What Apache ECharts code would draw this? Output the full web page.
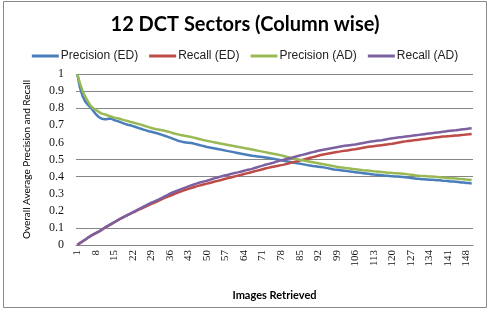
<!DOCTYPE html>
<html>
<head>
<meta charset="utf-8">
<script src="https://cdn.jsdelivr.net/npm/echarts@6/dist/echarts.min.js"></script>
<style>
  html, body { margin: 0; padding: 0; background: #fff; }
  #chart { width: 490px; height: 312px; }
</style>
</head>
<body>
<div id="chart"></div>
<script>
// images retrieved: 1..150
const imagesRetrieved = []
for (let n = 1; n <= 150; n++) imagesRetrieved.push(String(n))

const yTicks = [0, 0.1, 0.2, 0.3, 0.4, 0.5, 0.6, 0.7, 0.8, 0.9, 1]
// only these grid lines are visible in the reference
const visibleGridLines = [0.1, 0.4, 0.5, 0.8, 0.9, 1]

const precisionED = [
  1, 0.92, 0.87, 0.84, 0.82, 0.805, 0.785, 0.765, 0.75, 0.74,
  0.736, 0.735, 0.74, 0.738, 0.73, 0.726, 0.72, 0.714, 0.708, 0.703,
  0.7, 0.695, 0.69, 0.685, 0.68, 0.675, 0.67, 0.665, 0.662, 0.658,
  0.654, 0.649, 0.644, 0.639, 0.634, 0.628, 0.622, 0.616, 0.61, 0.606,
  0.602, 0.6, 0.598, 0.596, 0.593, 0.589, 0.585, 0.581, 0.577, 0.573,
  0.57, 0.567, 0.564, 0.561, 0.558, 0.555, 0.552, 0.549, 0.546, 0.543,
  0.54, 0.537, 0.534, 0.531, 0.528, 0.525, 0.522, 0.52, 0.518, 0.516,
  0.514, 0.512, 0.51, 0.507, 0.505, 0.502, 0.499, 0.496, 0.493, 0.49,
  0.487, 0.484, 0.481, 0.478, 0.476, 0.473, 0.47, 0.467, 0.465, 0.462,
  0.46, 0.458, 0.456, 0.454, 0.451, 0.448, 0.445, 0.442, 0.44, 0.438,
  0.436, 0.434, 0.432, 0.43, 0.428, 0.426, 0.424, 0.422, 0.42, 0.418,
  0.416, 0.414, 0.412, 0.411, 0.41, 0.408, 0.406, 0.405, 0.403, 0.402,
  0.401, 0.4, 0.399, 0.398, 0.396, 0.394, 0.392, 0.39, 0.388, 0.387,
  0.385, 0.384, 0.383, 0.382, 0.381, 0.38, 0.379, 0.378, 0.376, 0.375,
  0.374, 0.372, 0.371, 0.37, 0.368, 0.366, 0.365, 0.363, 0.362, 0.36
]

const recallED = [
  0, 0.011, 0.021, 0.031, 0.042, 0.052, 0.061, 0.069, 0.077, 0.086,
  0.097, 0.106, 0.115, 0.124, 0.133, 0.142, 0.151, 0.159, 0.167, 0.175,
  0.182, 0.19, 0.197, 0.205, 0.212, 0.219, 0.226, 0.233, 0.24, 0.247,
  0.254, 0.261, 0.268, 0.275, 0.282, 0.288, 0.294, 0.3, 0.306, 0.312,
  0.318, 0.323, 0.328, 0.333, 0.338, 0.343, 0.347, 0.351, 0.355, 0.359,
  0.363, 0.367, 0.371, 0.375, 0.379, 0.383, 0.387, 0.391, 0.395, 0.399,
  0.403, 0.407, 0.411, 0.415, 0.419, 0.423, 0.427, 0.431, 0.435, 0.439,
  0.443, 0.447, 0.451, 0.455, 0.458, 0.461, 0.464, 0.467, 0.47, 0.474,
  0.478, 0.482, 0.486, 0.49, 0.494, 0.498, 0.502, 0.506, 0.51, 0.514,
  0.518, 0.522, 0.526, 0.529, 0.532, 0.535, 0.538, 0.541, 0.544, 0.546,
  0.549, 0.551, 0.553, 0.556, 0.558, 0.56, 0.563, 0.566, 0.569, 0.572,
  0.574, 0.576, 0.578, 0.58, 0.582, 0.584, 0.586, 0.588, 0.59, 0.592,
  0.595, 0.598, 0.601, 0.604, 0.606, 0.608, 0.61, 0.612, 0.614, 0.616,
  0.618, 0.62, 0.622, 0.624, 0.626, 0.628, 0.63, 0.632, 0.634, 0.635,
  0.636, 0.637, 0.639, 0.64, 0.641, 0.643, 0.644, 0.646, 0.647, 0.649
]

const precisionAD = [
  1, 0.945, 0.9, 0.867, 0.84, 0.815, 0.8, 0.79, 0.78, 0.77,
  0.765, 0.76, 0.755, 0.75, 0.745, 0.742, 0.738, 0.733, 0.729, 0.725,
  0.72, 0.716, 0.712, 0.708, 0.704, 0.699, 0.694, 0.689, 0.684, 0.68,
  0.677, 0.674, 0.671, 0.668, 0.664, 0.66, 0.655, 0.651, 0.647, 0.643,
  0.64, 0.637, 0.634, 0.631, 0.628, 0.624, 0.62, 0.616, 0.612, 0.609,
  0.606, 0.603, 0.6, 0.597, 0.594, 0.591, 0.588, 0.585, 0.582, 0.579,
  0.576, 0.573, 0.57, 0.567, 0.564, 0.561, 0.558, 0.555, 0.552, 0.549,
  0.546, 0.543, 0.54, 0.537, 0.534, 0.531, 0.528, 0.524, 0.52, 0.516,
  0.512, 0.508, 0.505, 0.502, 0.499, 0.496, 0.493, 0.49, 0.487, 0.484,
  0.481, 0.478, 0.475, 0.472, 0.469, 0.466, 0.463, 0.46, 0.457, 0.455,
  0.453, 0.451, 0.449, 0.447, 0.445, 0.443, 0.441, 0.439, 0.437, 0.436,
  0.435, 0.433, 0.431, 0.43, 0.429, 0.427, 0.425, 0.423, 0.422, 0.421,
  0.42, 0.419, 0.418, 0.417, 0.415, 0.413, 0.411, 0.409, 0.407, 0.405,
  0.404, 0.403, 0.402, 0.401, 0.4, 0.399, 0.398, 0.396, 0.394, 0.393,
  0.392, 0.391, 0.39, 0.389, 0.387, 0.386, 0.385, 0.383, 0.382, 0.38
]

const recallAD = [
  0, 0.012, 0.022, 0.032, 0.043, 0.053, 0.062, 0.07, 0.078, 0.087,
  0.098, 0.107, 0.116, 0.125, 0.134, 0.143, 0.152, 0.16, 0.168, 0.176,
  0.184, 0.192, 0.2, 0.208, 0.216, 0.224, 0.232, 0.24, 0.247, 0.254,
  0.261, 0.268, 0.276, 0.284, 0.292, 0.3, 0.307, 0.313, 0.319, 0.325,
  0.331, 0.337, 0.343, 0.349, 0.354, 0.359, 0.364, 0.368, 0.372, 0.376,
  0.381, 0.386, 0.391, 0.395, 0.4, 0.404, 0.408, 0.411, 0.415, 0.419,
  0.422, 0.426, 0.43, 0.434, 0.438, 0.441, 0.445, 0.45, 0.455, 0.46,
  0.464, 0.469, 0.473, 0.477, 0.481, 0.486, 0.491, 0.495, 0.499, 0.503,
  0.507, 0.511, 0.515, 0.519, 0.523, 0.527, 0.531, 0.535, 0.539, 0.543,
  0.547, 0.551, 0.554, 0.557, 0.56, 0.563, 0.566, 0.569, 0.572, 0.575,
  0.578, 0.58, 0.582, 0.584, 0.586, 0.588, 0.591, 0.594, 0.597, 0.6,
  0.603, 0.605, 0.607, 0.609, 0.611, 0.613, 0.616, 0.619, 0.622, 0.624,
  0.626, 0.628, 0.63, 0.632, 0.634, 0.636, 0.638, 0.64, 0.642, 0.644,
  0.646, 0.648, 0.65, 0.652, 0.654, 0.656, 0.658, 0.66, 0.662, 0.664,
  0.666, 0.668, 0.67, 0.671, 0.673, 0.675, 0.677, 0.679, 0.681, 0.683
]

const seriesNames = ['Precision (ED)', 'Recall (ED)', 'Precision (AD)', 'Recall (AD)']
const seriesColors = ['#4A7EBB', '#BE4B48', '#98B954', '#7D60A0']
const seriesData = [precisionED, recallED, precisionAD, recallAD]

const chart = echarts.init(document.getElementById('chart'))

const series = seriesNames.map((name, i) => ({
  name,
  type: 'line',
  data: seriesData[i],
  symbol: 'none',
  z: 3,
  lineStyle: { color: seriesColors[i], width: 2.5 },
  itemStyle: { color: seriesColors[i] },
}))

// grid lines drawn on the first series
series[0].markLine = {
  silent: true,
  symbol: 'none',
  label: { show: false },
  z: 1,
  lineStyle: { color: '#868686', width: 1, type: 'solid' },
  data: visibleGridLines.map((v) => ({ yAxis: v })),
}

chart.setOption({
  animation: false,
  title: {
    text: '12 DCT Sectors (Column wise)',
    left: 'center',
    top: 10,
    textStyle: { fontFamily: 'Lato', fontWeight: 'bold', fontSize: 20, color: '#000' },
  },
  legend: {
    data: seriesNames,
    top: 45,
    left: 'center',
    icon: 'rect',
    itemWidth: 27,
    itemHeight: 3,
    itemGap: 11,
    textStyle: { fontFamily: 'Liberation Sans', fontSize: 12, color: '#222', padding: [0, 0, 0, -3] },
  },
  grid: { left: 76, right: 17, top: 74, bottom: 67 },
  xAxis: {
    type: 'category',
    data: imagesRetrieved,
    boundaryGap: true,
    name: 'Images Retrieved',
    nameLocation: 'middle',
    nameGap: 45,
    nameTextStyle: { fontFamily: 'Lato', fontWeight: 'bold', fontSize: 11, color: '#000' },
    axisLine: { lineStyle: { color: '#868686', width: 1 } },
    axisTick: { interval: 1, length: 4, lineStyle: { color: '#868686' } },
    axisLabel: {
      interval: 6,
      rotate: 90,
      margin: 5,
      fontFamily: 'Liberation Serif',
      fontSize: 11,
      color: '#111',
    },
    splitLine: { show: false },
  },
  yAxis: {
    type: 'value',
    min: yTicks[0],
    max: yTicks[yTicks.length - 1],
    interval: 0.1,
    name: 'Overall Average Precision and Recall',
    nameLocation: 'middle',
    nameGap: 44,
    nameTextStyle: { fontFamily: 'Lato', fontSize: 10, color: '#000' },
    axisLine: { show: false },
    axisTick: { show: false },
    axisLabel: {
      margin: 12,
      fontFamily: 'Liberation Serif',
      fontSize: 12,
      color: '#111',
      formatter: (v) => String(Math.round(v * 10) / 10),
    },
    splitLine: { show: false },
  },
  graphic: [
    {
      type: 'rect',
      shape: { x: 3.5, y: 1.5, width: 483, height: 306 },
      style: { fill: 'none', stroke: '#888', lineWidth: 1 },
      silent: true,
    },
  ],
  series,
})
</script>
</body>
</html>
